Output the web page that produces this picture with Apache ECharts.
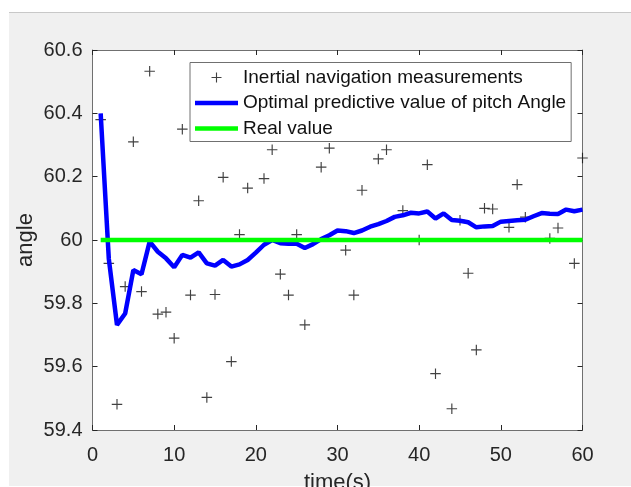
<!DOCTYPE html>
<html><head><meta charset="utf-8">
<script src="https://cdn.jsdelivr.net/npm/echarts@6/dist/echarts.min.js"></script>
<style>html,body{margin:0;padding:0;background:#ffffff;}#c{width:631px;height:487px;}</style>
</head><body><div id="c"></div>
<script>
const xTicks = [0, 10, 20, 30, 40, 50, 60];
const yTicks = [59.4, 59.6, 59.8, 60, 60.2, 60.4, 60.6];

const measTime  = [1,2,3,4,5,6,7,8,9,10,11,12,13,14,15,16,17,18,19,21,22,23,24,25,26,28,29,31,32,33,35,36,38,40,41,42,44,45,46,47,48,49,51,52,53,56,57,59,60];
const measValue = [60.38,59.926,59.481,59.853,60.31,59.837,60.533,59.766,59.772,59.69,60.35,59.826,60.124,59.503,59.828,60.198,59.616,60.017,60.164,60.194,60.285,59.892,59.826,60.017,59.732,60.23,60.29,59.968,59.826,60.157,60.256,60.285,60.093,60.0,60.238,59.578,59.467,60.062,59.895,59.653,60.1,60.098,60.04,60.175,60.072,60.005,60.038,59.926,60.259];

const predTime  = [1,2,3,4,5,6,7,8,9,10,11,12,13,14,15,16,17,18,19,20,21,22,23,24,25,26,27,28,29,30,31,32,33,34,35,36,37,38,39,40,41,42,43,44,45,46,47,48,49,50,51,52,53,54,55,56,57,58,59,60];
const predValue = [60.40,59.94,59.732,59.768,59.905,59.892,59.995,59.963,59.942,59.914,59.953,59.944,59.961,59.926,59.919,59.937,59.916,59.923,59.937,59.96,59.985,60.0,59.99,59.988,59.988,59.975,59.987,60.003,60.015,60.03,60.028,60.022,60.03,60.042,60.05,60.06,60.073,60.078,60.086,60.084,60.09,60.068,60.084,60.063,60.061,60.056,60.04,60.043,60.044,60.058,60.06,60.062,60.064,60.075,60.085,60.083,60.082,60.096,60.091,60.096];

const realTime  = [1, 60];
const realValue = [60, 60];

const seriesNames = ['Inertial navigation measurements', 'Optimal predictive value of pitch Angle', 'Real value'];

const FONT = 'Liberation Sans, Arial, Helvetica, sans-serif';
const AXIS_COLOR = '#707070';
const TEXT_COLOR = '#262626';
const plus = 'path://M4.45,0h1.1v10h-1.1z M0,4.45h10v1.1h-10z';
const lineIcon = 'path://M0,0h43v4.5h-43z';

function zip(a, b) { return a.map((v, i) => [v, b[i]]); }

function xAx(pos, showLabel) {
  return {
    type: 'value', position: pos, min: xTicks[0], max: xTicks[xTicks.length - 1],
    interval: xTicks[1] - xTicks[0],
    axisLine: { show: true, onZero: false, lineStyle: { color: AXIS_COLOR, width: 1 } },
    axisTick: { show: true, inside: true, length: 5, lineStyle: { color: TEXT_COLOR } },
    axisLabel: { show: showLabel, fontSize: 20, color: TEXT_COLOR, margin: 15, fontFamily: FONT },
    splitLine: { show: false },
    name: showLabel ? 'time(s)' : '', nameLocation: 'middle', nameGap: 42,
    nameTextStyle: { fontSize: 22, color: TEXT_COLOR, fontFamily: FONT }
  };
}
function yAx(pos, showLabel) {
  return {
    type: 'value', position: pos, min: yTicks[0], max: yTicks[yTicks.length - 1],
    interval: 0.2,
    axisLine: { show: true, onZero: false, lineStyle: { color: AXIS_COLOR, width: 1 } },
    axisTick: { show: true, inside: true, length: 5, lineStyle: { color: TEXT_COLOR } },
    axisLabel: { show: showLabel, fontSize: 20, color: TEXT_COLOR, margin: 10, fontFamily: FONT },
    splitLine: { show: false },
    name: showLabel ? 'angle' : '', nameLocation: 'middle', nameGap: 56, nameMoveOverlap: false,
    nameTextStyle: { fontSize: 22, color: TEXT_COLOR, fontFamily: FONT }
  };
}

const chart = echarts.init(document.getElementById('c'), null, { renderer: 'canvas' });
chart.setOption({
  backgroundColor: '#ffffff',
  animation: false,
  textStyle: { fontFamily: FONT },
  graphic: [
    { type: 'rect', z: -10, shape: { x: 9, y: 12, width: 622, height: 474 }, style: { fill: '#f0f0f0' }, silent: true },
    { type: 'line', z: -9, shape: { x1: 9, y1: 12.5, x2: 631, y2: 12.5 }, style: { stroke: '#c8c8c8', lineWidth: 1 }, silent: true }
  ],
  grid: { left: 92.5, top: 50, width: 490, height: 380, show: true, backgroundColor: '#ffffff', borderWidth: 0, containLabel: false, outerBoundsMode: 'none' },
  xAxis: [xAx('bottom', true), xAx('top', false)],
  yAxis: [yAx('left', true), yAx('right', false)],
  legend: {
    orient: 'vertical', left: 190, top: 62.5,
    padding: [5, 5, 3, 5],
    itemWidth: 43, itemHeight: 10, itemGap: 5.5,
    symbolKeepAspect: true,
    backgroundColor: '#ffffff', borderColor: AXIS_COLOR, borderWidth: 1,
    textStyle: { fontSize: 19, lineHeight: 20, color: '#111111', fontFamily: FONT },
    data: [
      { name: seriesNames[0], icon: plus },
      { name: seriesNames[1], icon: lineIcon },
      { name: seriesNames[2], icon: lineIcon }
    ]
  },
  series: [
    {
      name: seriesNames[0], type: 'scatter', data: zip(measTime, measValue),
      symbol: plus, symbolSize: 10.5, itemStyle: { color: '#111111' }, z: 2
    },
    {
      name: seriesNames[1], type: 'line', data: zip(predTime, predValue),
      symbol: 'none', showSymbol: false, lineStyle: { color: '#0000ff', width: 4.5 },
      itemStyle: { color: '#0000ff' }, z: 3
    },
    {
      name: seriesNames[2], type: 'line', data: zip(realTime, realValue),
      symbol: 'none', showSymbol: false, lineStyle: { color: '#00ff00', width: 4.5 },
      itemStyle: { color: '#00ff00' }, z: 4
    }
  ]
});
</script>
</body></html>
